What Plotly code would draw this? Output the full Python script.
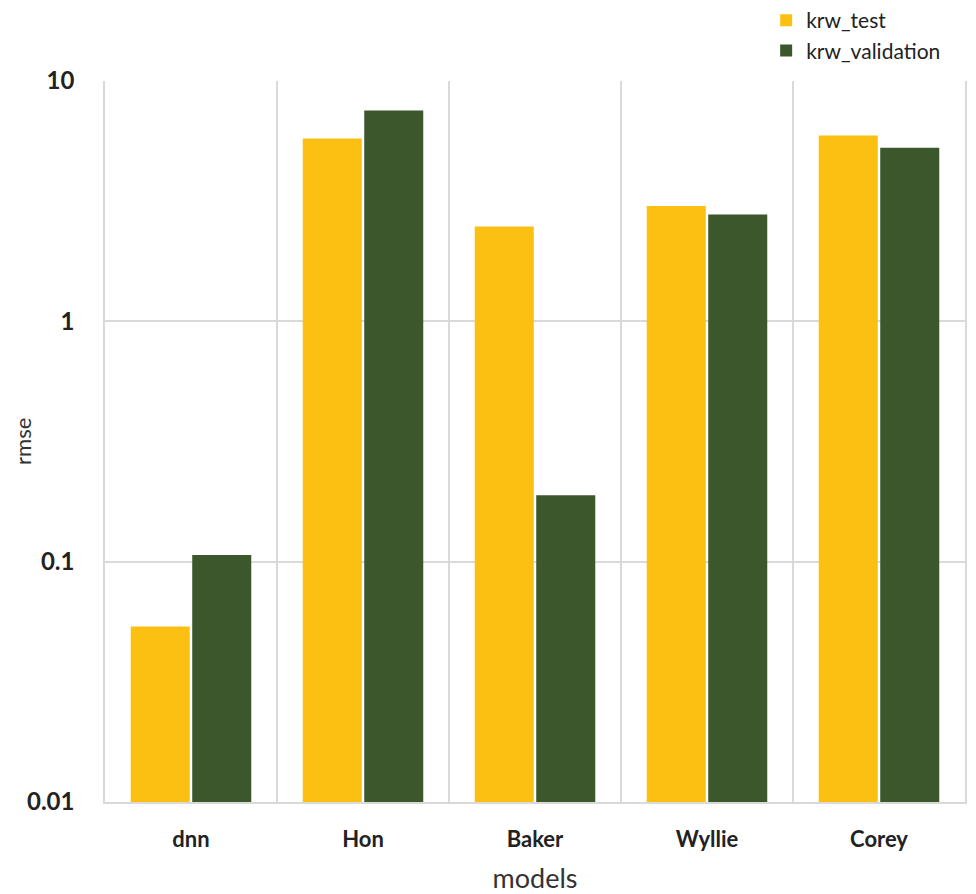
import plotly.graph_objects as go

models = ["dnn", "Hon", "Baker", "Wyllie", "Corey"]
krw_test = [0.0537, 5.76, 2.48, 3.02, 5.93]
krw_validation = [0.1066, 7.53, 0.189, 2.78, 5.28]
y_ticks = [0.01, 0.1, 1, 10]
y_tick_labels = ["0.01", "0.1", "1", "10"]

FONT = "Lato, Open Sans, sans-serif"

fig = go.Figure()
fig.add_trace(go.Bar(x=models, y=krw_test, name="krw_test",
                     marker=dict(color="#FCC012", line=dict(width=0))))
fig.add_trace(go.Bar(x=models, y=krw_validation, name="krw_validation",
                     marker=dict(color="#3C572B", line=dict(width=0))))

fig.update_layout(
    width=976, height=894,
    paper_bgcolor="white", plot_bgcolor="white",
    barmode="group", bargap=0.285, bargroupgap=0.04,
    margin=dict(l=105, r=11, t=81, b=92, autoexpand=False),
    font=dict(family=FONT, color="#222222"),
    legend=dict(x=0.785, y=1.0, xref="container", yref="container",
                xanchor="left", yanchor="top",
                font=dict(size=21, family=FONT, color="#222222"),
                bgcolor="rgba(0,0,0,0)", itemwidth=30),
    showlegend=True,
)
fig.update_xaxes(
    tickson="boundaries", showgrid=True, gridcolor="#d9d9d9", gridwidth=1.5,
    showline=True, linecolor="#d9d9d9", linewidth=2, ticks="",
    ticklabelstandoff=17, automargin=False,
    tickfont=dict(size=22, family=FONT, color="#222222", weight="bold"),
    title=dict(text="models", font=dict(size=27, family=FONT, color="#333333"), standoff=19),
)
fig.update_yaxes(
    type="log", range=[-2, 1], tickvals=y_ticks, ticktext=y_tick_labels,
    showgrid=True, gridcolor="#d9d9d9", gridwidth=1.5, zeroline=False,
    showline=True, mirror=True, linecolor="#d9d9d9", linewidth=1.5,
    ticks="", ticklabelstandoff=24, automargin=False,
    tickfont=dict(size=24, family=FONT, color="#222222", weight="bold"),
)
fig.add_annotation(text="rmse", xref="paper", yref="paper", x=-0.096, y=0.5,
                   xanchor="center", yanchor="middle", textangle=-90,
                   showarrow=False, font=dict(size=22, family=FONT, color="#333333"))
fig.write_html("out.html", config={"displayModeBar": False},
               post_script="document.body.style.margin='0';")
